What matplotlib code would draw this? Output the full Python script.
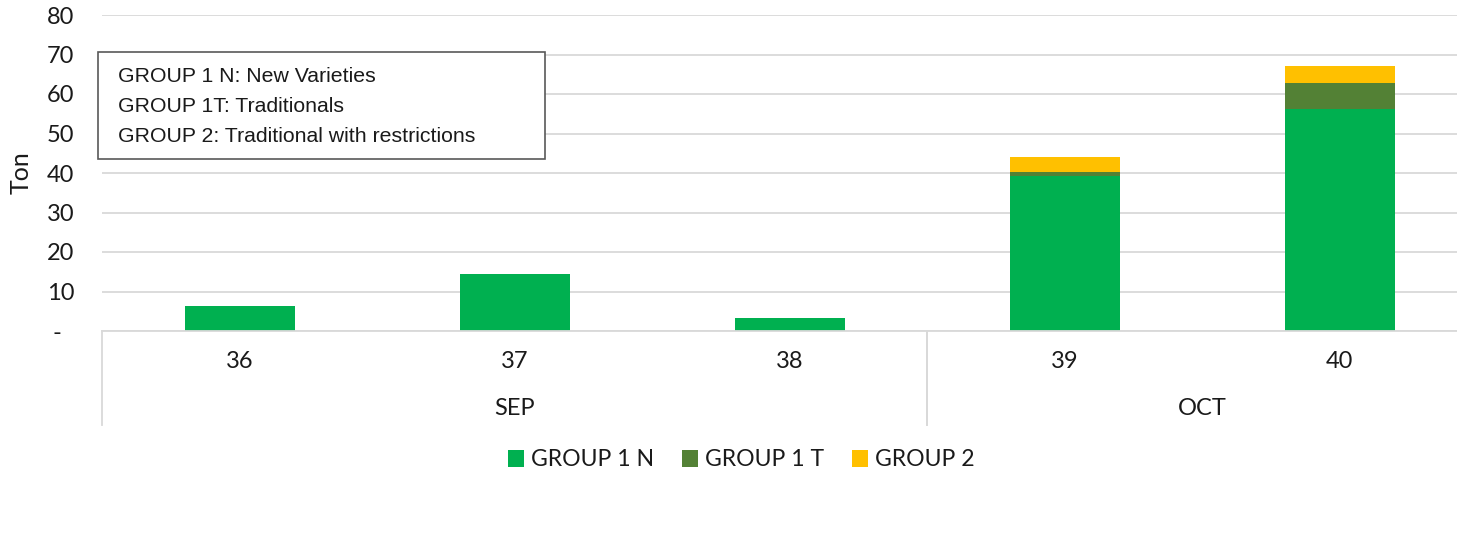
import numpy as np
import matplotlib.pyplot as plt
from matplotlib.patches import Rectangle

weeks = ["36", "37", "38", "39", "40"]
months = ["SEP", "OCT"]
month_spans = [(0, 2), (3, 4)]
group_1n = [6.3, 14.4, 3.2, 39.3, 56.1]
group_1t = [0.0, 0.0, 0.0, 0.9, 6.7]
group_2 = [0.0, 0.0, 0.0, 3.8, 4.2]
y_ticks = [0, 10, 20, 30, 40, 50, 60, 70, 80]
y_tick_labels = ["-  ", "10", "20", "30", "40", "50", "60", "70", "80"]
note_lines = ["GROUP 1 N: New Varieties",
              "GROUP 1T: Traditionals",
              "GROUP 2: Traditional with restrictions"]

c_1n = "#00B050"
c_1t = "#538135"
c_2 = "#FFC000"
grid_c = "#D9D9D9"
main_font = ["Lato", "DejaVu Sans"]
fs = 17

W, H = 1457, 537
fig = plt.figure(figsize=(W / 100, H / 100), dpi=100)
ax = fig.add_axes([102 / W, (H - 331) / H, 1375 / W, 316 / H])

x = np.arange(len(weeks))
g1n = np.array(group_1n)
g1t = np.array(group_1t)
g2 = np.array(group_2)
bw = 0.4
ax.bar(x, g1n, bw, color=c_1n, label="GROUP 1 N", zorder=3)
ax.bar(x, g1t, bw, bottom=g1n, color=c_1t, label="GROUP 1 T", zorder=3)
ax.bar(x, g2, bw, bottom=g1n + g1t, color=c_2, label="GROUP 2", zorder=3)

ax.set_xlim(-0.5, len(weeks) - 0.5)
ax.set_ylim(0, 80)
ax.set_yticks(y_ticks)
ax.set_yticklabels(y_tick_labels, fontsize=fs, family=main_font, color="#1a1a1a")
ax.tick_params(axis="y", length=0, pad=20)
ax.set_xticks([])
ax.grid(axis="y", color=grid_c, linewidth=1.3, zorder=0)
for s in ["top", "right", "left"]:
    ax.spines[s].set_visible(False)
ax.spines["bottom"].set_color(grid_c)
ax.spines["bottom"].set_linewidth(1.3)
ax.spines["bottom"].set_zorder(4)
ax.set_ylabel("Ton", fontsize=fs + 1, family=main_font, color="#1a1a1a", labelpad=10)

# category axis with week and month levels
tr = ax.get_xaxis_transform()
for i, w in enumerate(weeks):
    ax.text(i, -0.098, w, transform=tr, ha="center", va="center",
            fontsize=fs, family=main_font, color="#1a1a1a")
for m, (a, b) in zip(months, month_spans):
    ax.text((a + b) / 2, -0.244, m, transform=tr, ha="center", va="center",
            fontsize=fs, family=main_font, color="#1a1a1a")
    for xs in (a - 0.5, b + 0.5):
        ax.plot([xs, xs], [0, -0.297], transform=tr, color=grid_c,
                linewidth=1.3, clip_on=False)

# note box
fig.patches.append(Rectangle((98 / W, (H - 159) / H), 447 / W, 107 / H,
                             transform=fig.transFigure, facecolor="white",
                             edgecolor="#595959", linewidth=1.2, zorder=5))
for k, line in enumerate(note_lines):
    fig.text(118 / W, (H - (76 + 30.5 * k)) / H, line, ha="left", va="center",
             fontsize=15.3, family=["Liberation Sans", "DejaVu Sans"],
             color="#1a1a1a", zorder=6)

fig.legend(loc="center", bbox_to_anchor=(741 / W, 1 - 460 / H), ncol=3,
           frameon=False, prop={"family": main_font, "size": 16.6},
           handlelength=0.7, handleheight=0.7, handletextpad=0.3,
           columnspacing=1.2, labelcolor="#1a1a1a")

fig.savefig("out.png", dpi=100)
